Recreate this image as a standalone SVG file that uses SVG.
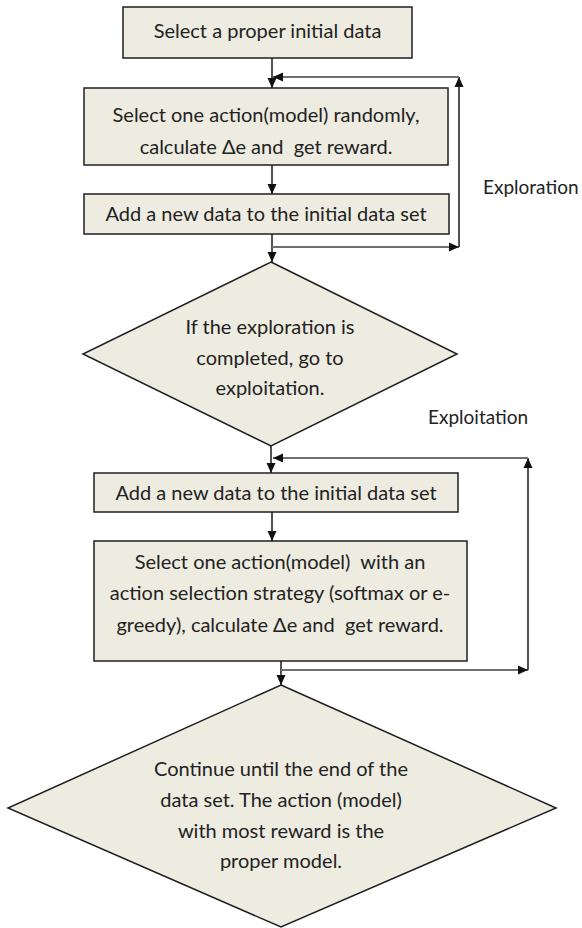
<svg xmlns="http://www.w3.org/2000/svg" width="582" height="928" viewBox="0 0 582 928">
  <style>
    .box { fill: #eeece1; stroke: #1f1f1f; stroke-width: 1.5; }
    .t { font-family: Lato, "Open Sans", "Liberation Sans", sans-serif; font-size: 20px; fill: #222222; text-anchor: middle; white-space: pre; }
    .lbl { font-family: Lato, "Open Sans", "Liberation Sans", sans-serif; font-size: 19px; fill: #222222; }
    .v { fill: none; stroke: #1a1a1a; stroke-width: 1.5; }
    .h { fill: none; stroke: #6e6e6e; stroke-width: 2; }
  </style>
  <defs>
    <marker id="ah" viewBox="0 0 10 10" refX="10" refY="5" markerWidth="11" markerHeight="10" markerUnits="userSpaceOnUse" orient="auto">
      <path d="M0,0.5 L10,5 L0,9.5 z" fill="#111"/>
    </marker>
  </defs>
  <rect width="582" height="928" fill="#ffffff"/>

  <g id="n1">
    <rect class="box" x="123" y="7" width="289" height="51"/>
    <text class="t" x="267.5" y="38">Select a proper initial data</text>
  </g>
  <g id="n2">
    <rect class="box" x="84" y="88" width="364" height="77"/>
    <text class="t" x="266" y="122">Select one action(model) randomly,</text>
    <text class="t" x="266" y="154" xml:space="preserve">calculate Δe and  get reward.</text>
  </g>
  <g id="n3">
    <rect class="box" x="84" y="194" width="365" height="40"/>
    <text class="t" x="266" y="221">Add a new data to the initial data set</text>
  </g>
  <g id="n4">
    <polygon class="box" points="271,262 457,354 271,446 83,354"/>
    <text class="t" x="270" y="334">If the exploration is</text>
    <text class="t" x="270" y="365">completed, go to</text>
    <text class="t" x="270" y="395">exploitation.</text>
  </g>
  <g id="n5">
    <rect class="box" x="94" y="473" width="364" height="39"/>
    <text class="t" x="276" y="500">Add a new data to the initial data set</text>
  </g>
  <g id="n6">
    <rect class="box" x="94" y="541" width="373" height="120"/>
    <text class="t" x="280" y="569" xml:space="preserve">Select one action(model)  with an</text>
    <text class="t" x="280" y="600">action selection strategy (softmax or e-</text>
    <text class="t" x="280" y="632" xml:space="preserve">greedy), calculate Δe and  get reward.</text>
  </g>
  <g id="n7">
    <polygon class="box" points="281,685 556,808 281,927 8,808"/>
    <text class="t" x="281" y="776">Continue until the end of the</text>
    <text class="t" x="281" y="807">data set. The action (model)</text>
    <text class="t" x="281" y="838">with most reward is the</text>
    <text class="t" x="281" y="868">proper model.</text>
  </g>
  <g id="labels">
    <text class="lbl" x="483" y="194">Exploration</text>
    <text class="lbl" x="428" y="424">Exploitation</text>
  </g>

  <g id="connectors">
    <path class="v" d="M272,58 V88" marker-end="url(#ah)"/>
    <path class="v" d="M272,165 V194" marker-end="url(#ah)"/>
    <path class="v" d="M272,234 V262" marker-end="url(#ah)"/>
    <path class="h" d="M272,247 H459" marker-end="url(#ah)"/>
    <path class="v" d="M459,247 V77" marker-end="url(#ah)"/>
    <path class="h" d="M459,77 H273" marker-end="url(#ah)"/>
    <path class="v" d="M271,446 V473" marker-end="url(#ah)"/>
    <path class="v" d="M272,512 V541" marker-end="url(#ah)"/>
    <path class="v" d="M281,661 V685" marker-end="url(#ah)"/>
    <path class="h" d="M281,670 H528" marker-end="url(#ah)"/>
    <path class="v" d="M528,670 V458" marker-end="url(#ah)"/>
    <path class="h" d="M528,458 H273" marker-end="url(#ah)"/>
  </g>
</svg>
